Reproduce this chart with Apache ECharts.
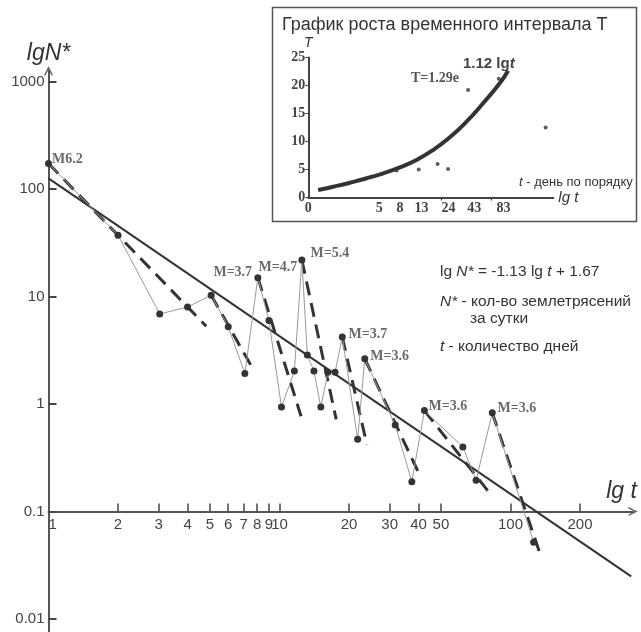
<!DOCTYPE html>
<html><head><meta charset="utf-8">
<script src="https://cdn.jsdelivr.net/npm/echarts@6/dist/echarts.min.js"></script>
<style>html,body{margin:0;padding:0;background:#fff}#c{width:641px;height:632px}</style>
</head><body><div id="c"></div>
<script>
// ---- main chart: t = day, N* = earthquakes per day ----
const dayT   = [1, 2, 3.03, 4, 5.06, 6, 7.08, 8.06, 9, 10.2, 11.6, 12.5, 13.2, 14.1, 15.1, 16.2, 17.4, 18.7, 21.8, 23.4, 31.7, 37.4, 42.4, 62.2, 71, 83.4, 126];
const quakeN = [173, 37.3, 6.9, 8.0, 10.3, 5.24, 1.93, 15, 6.0, 0.94, 2.03, 21.9, 2.86, 2.03, 0.94, 1.98, 1.98, 4.2, 0.47, 2.64, 0.64, 0.19, 0.87, 0.40, 0.196, 0.83, 0.052];
const decayStartT = [1, 5.06, 8.06, 12.5, 18.7, 23.4, 42.4, 83.4];
const decayStartN = [173, 10.3, 15, 21.9, 4.2, 2.64, 0.87, 0.83];
const decayEndT   = [4.82, 7.8, 12.4, 17.6, 23.9, 40.4, 81, 134];
const decayEndN   = [5.3, 2.0, 0.77, 0.72, 0.42, 0.22, 0.15, 0.041];
const trendT = [1, 333];
const trendN = [126, 0.025];
const quakeLabels = ['M6.2', 'M=3.7', 'M=4.7', 'M=5.4', 'M=3.7', 'M=3.6', 'M=3.6', 'M=3.6'];
const quakeLabelT = [1.03, 5.15, 8.07, 13.55, 19.8, 24.6, 44, 87.4];
const quakeLabelN = [190, 16.9, 18.5, 25.4, 4.49, 2.76, 0.96, 0.92];
const xTickValues = [1, 2, 3, 4, 5, 6, 7, 8, 9, 10, 20, 30, 40, 50, 100, 200];
const yTickValues = [0.01, 0.1, 1, 10, 100, 1000];
const yTickLabels = ['0.01', '0.1', '1', '10', '100', '1000'];
// ---- inset: growth of time interval T ----
const insetDayT     = [4.2, 7.4, 12.2, 18.7, 23.7, 37.3, 74.7, 216];
const insetInterval = [3.7, 4.8, 5.0, 6.0, 5.1, 19.2, 21.2, 12.5];
const fitDayT     = [1.25, 1.76, 2.57, 3.75, 5.46, 7.96, 11.6, 16.9, 24.7, 36.0, 52.4, 76.4, 92.3];
const fitInterval = [1.34, 1.93, 2.64, 3.43, 4.32, 5.39, 6.70, 8.48, 10.75, 13.54, 16.82, 20.39, 22.64];
const insetTickDays = [5, 8, 13, 24, 43, 83];
const insetMinorTickDays = [20.5, 63.5];

const lx = t => Math.log10(t);
const ly = n => Math.log10(n) + 1; // shifted so that N*=0.1 sits on the zero line
const SANS = '"Liberation Sans", Arial, sans-serif';
const SERIF = '"Liberation Serif", "Times New Roman", serif';
const chevron = 'path://M5,0 L10,10 L8.4,10 L5,3.2 L1.6,10 L0,10 Z';
const X_MAX = 2.53, Y_MIN = -1.12, Y_MAX = 4.1;

const series = [];
series.push({
  type: 'line', xAxisIndex: 0, yAxisIndex: 0, symbol: 'none', z: 3,
  lineStyle: { color: '#333', width: 2 },
  data: trendT.map((t, i) => [lx(t), ly(trendN[i])])
});
decayStartT.forEach((t, i) => {
  series.push({
    type: 'line', xAxisIndex: 0, yAxisIndex: 0, symbol: 'none', z: 4,
    lineStyle: { color: '#333', width: 3, type: [14, 8] },
    data: [[lx(t), ly(decayStartN[i])], [lx(decayEndT[i]), ly(decayEndN[i])]]
  });
});
series.push({
  type: 'line', xAxisIndex: 0, yAxisIndex: 0, z: 5,
  symbol: 'circle', symbolSize: 7,
  itemStyle: { color: '#333' },
  lineStyle: { color: '#999', width: 1 },
  data: dayT.map((t, i) => [lx(t), ly(quakeN[i])])
});
series.push({
  type: 'scatter', xAxisIndex: 0, yAxisIndex: 0, symbolSize: 1, silent: true, z: 6,
  itemStyle: { color: 'rgba(0,0,0,0)' },
  label: { show: true, position: 'right', distance: 0, formatter: '{b}',
           fontFamily: SERIF, fontWeight: 'bold', fontSize: 14, color: '#444' },
  data: quakeLabels.map((s, i) => ({ name: s, value: [lx(quakeLabelT[i]), ly(quakeLabelN[i])] }))
});
series.push({
  type: 'line', xAxisIndex: 1, yAxisIndex: 1, symbol: 'none', smooth: true,
  lineStyle: { color: '#333', width: 4 },
  data: fitDayT.map((t, i) => [lx(t), fitInterval[i]])
});
series.push({
  type: 'scatter', xAxisIndex: 1, yAxisIndex: 1, symbolSize: 4,
  itemStyle: { color: '#333' },
  data: insetDayT.map((t, i) => [lx(t), insetInterval[i]])
});

const option = {
  animation: false,
  backgroundColor: '#fff',
  grid: [
    { left: 48.5, right: 8.1, top: 70.85, bottom: 0, outerBoundsMode: 'none', containLabel: false },
    { left: 308.3, right: 87.7, top: 57.5, bottom: 434.5, outerBoundsMode: 'none', containLabel: false },
    // helper grid whose bottom edge is the N*=0.1 line, carrying the visible t axis
    { left: 48.5, right: 8.1, top: 70.85, bottom: 120.4, outerBoundsMode: 'none', containLabel: false }
  ],
  xAxis: [
    { type: 'value', gridIndex: 0, min: 0, max: X_MAX, show: false },
    { type: 'value', gridIndex: 1, min: 0, max: 2.41,
      name: 'lg t', nameLocation: 'end', nameGap: 5,
      nameTextStyle: { fontFamily: SANS, fontStyle: 'italic', fontSize: 15, color: '#333' },
      axisLine: { onZero: false, lineStyle: { color: '#444', width: 2 } },
      axisTick: { show: true, length: 3, lineStyle: { color: '#444', width: 1.2 },
                  customValues: insetMinorTickDays.map(lx) },
      axisLabel: { show: true, customValues: [0].concat(insetTickDays.map(lx)), margin: 4,
                   fontFamily: SERIF, fontWeight: 'bold', fontSize: 14, color: '#444',
                   formatter: v => (v < 1e-9 ? '0' : String(Math.round(Math.pow(10, v)))) },
      splitLine: { show: false } },
    { type: 'value', gridIndex: 2, min: 0, max: X_MAX, position: 'bottom',
      name: 'lg t', nameLocation: 'end', nameGap: 4,
      nameTextStyle: { fontFamily: SANS, fontStyle: 'italic', fontSize: 23, color: '#333',
                       align: 'right', verticalAlign: 'bottom', padding: [0, 0, 8, 0] },
      axisLine: { onZero: false, lineStyle: { color: '#555', width: 2 },
                  symbol: ['none', chevron], symbolSize: [11, 9] },
      axisTick: { show: true, inside: true, length: 8, lineStyle: { color: '#444', width: 1.5 },
                  customValues: xTickValues.slice(1).map(lx) },
      axisLabel: { show: true, customValues: xTickValues.map(lx), margin: 6, alignMinLabel: 'left',
                   fontFamily: SANS, fontSize: 15, color: '#444',
                   formatter: v => String(Math.round(Math.pow(10, v))) },
      splitLine: { show: false } }
  ],
  yAxis: [
    { type: 'value', gridIndex: 0, min: Y_MIN, max: Y_MAX,
      name: 'lgN*', nameLocation: 'end', nameGap: 6,
      nameTextStyle: { fontFamily: SANS, fontStyle: 'italic', fontSize: 23, color: '#333' },
      axisLine: { onZero: false, lineStyle: { color: '#555', width: 2 },
                  symbol: ['none', chevron], symbolSize: [11, 9] },
      axisTick: { show: true, inside: true, length: 8, lineStyle: { color: '#444', width: 2 },
                  customValues: yTickValues.map(ly) },
      axisLabel: { show: true, customValues: yTickValues.map(ly), margin: 4,
                   fontFamily: SANS, fontSize: 15, color: '#444',
                   formatter: v => yTickLabels[Math.round(v) + 1] },
      splitLine: { show: false } },
    { type: 'value', gridIndex: 1, min: 0, max: 25, interval: 5,
      name: 'T', nameLocation: 'end', nameGap: 5,
      nameTextStyle: { fontFamily: SANS, fontStyle: 'italic', fontSize: 14, color: '#333' },
      axisLine: { onZero: false, lineStyle: { color: '#444', width: 2 } },
      axisTick: { show: true, length: 3, lineStyle: { color: '#444' } },
      axisLabel: { margin: 3, fontFamily: SERIF, fontWeight: 'bold', fontSize: 14, color: '#444' },
      splitLine: { show: false } },
    { type: 'value', gridIndex: 2, min: 0, max: 1, show: false }
  ],
  graphic: [
    { type: 'rect', z: -1, shape: { x: 272.5, y: 7.5, width: 364, height: 214 },
      style: { fill: 'none', stroke: '#555', lineWidth: 1.5 } },
    { type: 'text', x: 282, y: 25,
      style: { text: 'График роста временного интервала Т', font: '18px ' + SANS, fill: '#333',
               align: 'left', verticalAlign: 'middle' } },
    { type: 'text', x: 411, y: 78,
      style: { text: 'T=1.29e', font: 'bold 14px ' + SERIF, fill: '#555',
               align: 'left', verticalAlign: 'middle' } },
    { type: 'text', x: 463, y: 64,
      style: { text: '{a|1.12 lg}{b|t}', fill: '#444', align: 'left', verticalAlign: 'middle',
               rich: { a: { font: 'bold 15px ' + SANS }, b: { font: 'italic bold 15px ' + SANS } } } },
    { type: 'text', x: 519, y: 182,
      style: { text: '{b|t}{a| - день по порядку}', fill: '#333', align: 'left', verticalAlign: 'middle',
               rich: { a: { font: '13px ' + SANS }, b: { font: 'italic 13px ' + SANS } } } },
    { type: 'text', x: 440, y: 272,
      style: { text: '{a|lg }{b|N*}{a| = -1.13 lg }{b|t}{a| + 1.67}', fill: '#333', align: 'left', verticalAlign: 'middle',
               rich: { a: { font: '15.5px ' + SANS }, b: { font: 'italic 15.5px ' + SANS } } } },
    { type: 'text', x: 440, y: 302,
      style: { text: '{b|N*}{a| - кол-во землетрясений}', fill: '#333', align: 'left', verticalAlign: 'middle',
               rich: { a: { font: '15.5px ' + SANS }, b: { font: 'italic 15.5px ' + SANS } } } },
    { type: 'text', x: 470, y: 319,
      style: { text: 'за сутки', font: '15.5px ' + SANS, fill: '#333', align: 'left', verticalAlign: 'middle' } },
    { type: 'text', x: 440, y: 347,
      style: { text: '{b|t}{a| - количество дней}', fill: '#333', align: 'left', verticalAlign: 'middle',
               rich: { a: { font: '15.5px ' + SANS }, b: { font: 'italic 15.5px ' + SANS } } } }
  ],
  series: series
};
const chart = echarts.init(document.getElementById('c'));
chart.setOption(option);
</script>
</body></html>
